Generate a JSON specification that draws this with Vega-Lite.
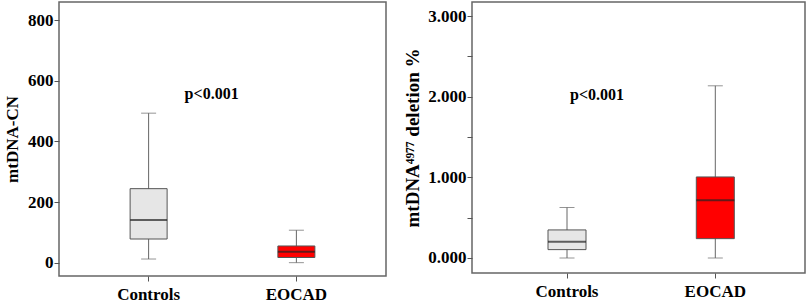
{
  "$schema": "https://vega.github.io/schema/vega-lite/v6.json",
  "padding": {"left": 2, "top": 1, "right": 2, "bottom": 0},
  "background": "white",
  "spacing": 16,
  "datasets": {
    "cn": [
      {"group": "Controls", "lower": 12, "q1": 78, "median": 141, "q3": 244, "upper": 493},
      {"group": "EOCAD", "lower": 0, "q1": 17, "median": 36, "q3": 55, "upper": 107}
    ],
    "del": [
      {"group": "Controls", "lower": 0, "q1": 0.104, "median": 0.203, "q3": 0.348, "upper": 0.626},
      {"group": "EOCAD", "lower": 0, "q1": 0.24, "median": 0.716, "q3": 1.005, "upper": 2.135}
    ],
    "pcn": [{"group": "Controls", "value": 556, "label": "p<0.001"}],
    "pdel": [{"group": "Controls", "value": 2.016, "label": "p<0.001"}]
  },
  "config": {
    "font": "Liberation Serif",
    "view": {"stroke": "#666666", "strokeWidth": 1.5},
    "axis": {
      "labelFont": "Liberation Serif",
      "labelFontWeight": "bold",
      "labelFontSize": 17,
      "labelColor": "#000000",
      "titleFont": "Liberation Serif",
      "titleFontWeight": "bold",
      "titleFontSize": 17,
      "titleColor": "#000000",
      "domain": false,
      "grid": false,
      "tickColor": "#555555",
      "tickSize": 5
    }
  },
  "hconcat": [
    {
      "width": 327,
      "height": 274,
      "layer": [
        {
          "data": {"name": "cn"},
          "mark": {"type": "rule", "color": "#666666", "strokeWidth": 1},
          "encoding": {
            "x": {"field": "group", "type": "nominal", "scale": {"paddingInner": 0, "paddingOuter": 0.1064, "align": 0.5},
              "axis": {"title": null, "labelAngle": 0, "labelPadding": 5}},
            "y": {"field": "lower", "type": "quantitative", "scale": {"domain": [-44, 859.6], "nice": false, "zero": false},
              "axis": {"title": "mtDNA-CN", "values": [0,100,200,300,400,500,600,700,800],
                "labelExpr": "datum.value % 200 == 0 ? datum.label : ''", "labelPadding": 1, "titlePadding": 6}},
            "y2": {"field": "upper"}
          }
        },
        {
          "data": {"name": "cn"},
          "mark": {"type": "tick", "color": "#666666", "size": 15, "thickness": 1},
          "encoding": {
            "x": {"field": "group", "type": "nominal"},
            "y": {"field": "lower", "type": "quantitative"}
          }
        },
        {
          "data": {"name": "cn"},
          "mark": {"type": "tick", "color": "#666666", "size": 15, "thickness": 1},
          "encoding": {
            "x": {"field": "group", "type": "nominal"},
            "y": {"field": "upper", "type": "quantitative"}
          }
        },
        {
          "data": {"name": "cn"},
          "mark": {"type": "bar", "width": 37, "stroke": "#555555", "strokeWidth": 1},
          "encoding": {
            "x": {"field": "group", "type": "nominal"},
            "y": {"field": "q1", "type": "quantitative"},
            "y2": {"field": "q3"},
            "fill": {"field": "group", "type": "nominal", "scale": {"domain": ["Controls", "EOCAD"], "range": ["#e6e6e6", "#ff0000"]}, "legend": null}
          }
        },
        {
          "data": {"name": "cn"},
          "mark": {"type": "tick", "color": "#222222", "size": 37, "thickness": 2},
          "encoding": {
            "x": {"field": "group", "type": "nominal"},
            "y": {"field": "median", "type": "quantitative"}
          }
        },
        {
          "data": {"name": "pcn"},
          "mark": {"type": "text", "font": "Liberation Serif", "fontWeight": "bold", "fontSize": 16, "dx": 63, "color": "#000000"},
          "encoding": {
            "x": {"field": "group", "type": "nominal"},
            "y": {"field": "value", "type": "quantitative"},
            "text": {"field": "label"}
          }
        }
      ]
    },
    {
      "width": 333,
      "height": 271,
      "layer": [
        {
          "data": {"name": "del"},
          "mark": {"type": "rule", "color": "#666666", "strokeWidth": 1},
          "encoding": {
            "x": {"field": "group", "type": "nominal", "scale": {"paddingInner": 0, "paddingOuter": 0.1227, "align": 0.573},
              "axis": {"title": null, "labelAngle": 0, "labelPadding": 5}},
            "y": {"field": "lower", "type": "quantitative", "scale": {"domain": [-0.186, 3.174], "nice": false, "zero": false},
              "axis": {"title": "mtDNA⁴⁹⁷⁷ deletion %", "titleFontSize": 19, "values": [0,0.5,1,1.5,2,2.5,3], "format": ".3f",
                "labelExpr": "datum.value % 1 == 0 ? datum.label : ''", "labelPadding": 1, "titlePadding": 5}},
            "y2": {"field": "upper"}
          }
        },
        {
          "data": {"name": "del"},
          "mark": {"type": "tick", "color": "#666666", "size": 15, "thickness": 1},
          "encoding": {
            "x": {"field": "group", "type": "nominal"},
            "y": {"field": "lower", "type": "quantitative"}
          }
        },
        {
          "data": {"name": "del"},
          "mark": {"type": "tick", "color": "#666666", "size": 15, "thickness": 1},
          "encoding": {
            "x": {"field": "group", "type": "nominal"},
            "y": {"field": "upper", "type": "quantitative"}
          }
        },
        {
          "data": {"name": "del"},
          "mark": {"type": "bar", "width": 38, "stroke": "#555555", "strokeWidth": 1},
          "encoding": {
            "x": {"field": "group", "type": "nominal"},
            "y": {"field": "q1", "type": "quantitative"},
            "y2": {"field": "q3"},
            "fill": {"field": "group", "type": "nominal", "scale": {"domain": ["Controls", "EOCAD"], "range": ["#e6e6e6", "#ff0000"]}, "legend": null}
          }
        },
        {
          "data": {"name": "del"},
          "mark": {"type": "tick", "color": "#222222", "size": 38, "thickness": 2},
          "encoding": {
            "x": {"field": "group", "type": "nominal"},
            "y": {"field": "median", "type": "quantitative"}
          }
        },
        {
          "data": {"name": "pdel"},
          "mark": {"type": "text", "font": "Liberation Serif", "fontWeight": "bold", "fontSize": 16, "dx": 30, "color": "#000000"},
          "encoding": {
            "x": {"field": "group", "type": "nominal"},
            "y": {"field": "value", "type": "quantitative"},
            "text": {"field": "label"}
          }
        }
      ]
    }
  ]
}
